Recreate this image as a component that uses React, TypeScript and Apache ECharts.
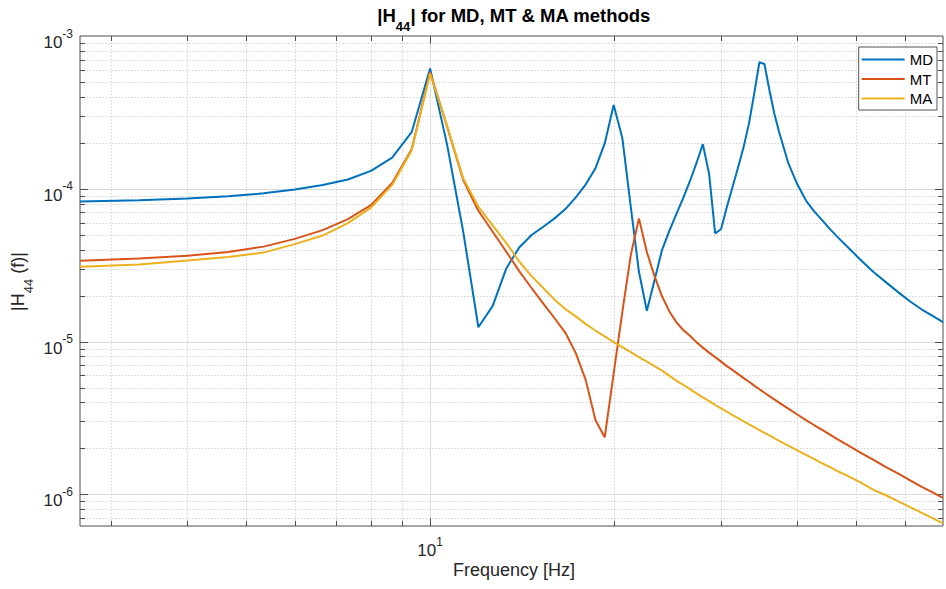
import React, { useEffect, useRef } from 'react';
import * as echarts from 'echarts';

// Frequency samples (Hz)
const freqHz = [
  2.667, 3.333, 4, 4.667, 5.333, 6, 6.667, 7.333, 8, 8.667, 9.333, 10, 10.667, 11.333, 12, 12.667,
  13.333, 14, 14.667, 15.333, 16, 16.667, 17.333, 18, 18.667, 19.333, 20, 20.667, 21.333, 22, 22.667,
  23.333, 24, 24.667, 25.333, 26, 26.667, 27.333, 28, 28.667, 29.333, 30, 30.667, 31.333, 32, 32.667,
  33.333, 34, 34.667, 35.333, 36, 36.667, 37.333, 38.667, 40, 41.333, 42.667, 44, 45.333, 46.667, 48,
  50.667, 53.333, 56, 58.667, 61.333, 64, 66.667, 69.333,
];

// |H44| from the MD method
const mdMagnitude = [
  8.24e-5, 8.4e-5, 8.65e-5, 8.92e-5, 9.33e-5, 9.88e-5, 1.057e-4, 1.15e-4, 1.31e-4, 1.6e-4, 2.36e-4, 6.13e-4,
  1.93e-4, 5.23e-5, 1.24e-5, 1.71e-5, 3.01e-5, 4.13e-5, 4.98e-5, 5.64e-5, 6.4e-5, 7.36e-5, 8.79e-5, 1.07e-4,
  1.36e-4, 1.98e-4, 3.53e-4, 2.14e-4, 7.62e-5, 2.86e-5, 1.59e-5, 2.52e-5, 3.97e-5, 5.28e-5, 6.83e-5, 8.69e-5,
  1.12e-4, 1.47e-4, 1.96e-4, 1.26e-4, 5.1e-5, 5.45e-5, 7.62e-5, 1.03e-4, 1.39e-4, 1.88e-4, 2.68e-4, 4.21e-4,
  6.73e-4, 6.56e-4, 4.43e-4, 3.12e-4, 2.36e-4, 1.47e-4, 1.07e-4, 8.37e-5, 7.09e-5, 6.19e-5, 5.4e-5, 4.79e-5,
  4.28e-5, 3.46e-5, 2.85e-5, 2.43e-5, 2.09e-5, 1.82e-5, 1.62e-5, 1.47e-5, 1.34e-5,
];

// |H44| from the MT method
const mtMagnitude = [
  3.38e-5, 3.49e-5, 3.64e-5, 3.86e-5, 4.18e-5, 4.7e-5, 5.36e-5, 6.33e-5, 7.82e-5, 1.09e-4, 1.82e-4, 5.81e-4,
  2.54e-4, 1.14e-4, 7.18e-5, 5.23e-5, 3.87e-5, 2.89e-5, 2.24e-5, 1.77e-5, 1.42e-5, 1.14e-5, 8.4e-6, 5.59e-6,
  3.06e-6, 2.36e-6, 6.18e-6, 1.57e-5, 3.68e-5, 6.4e-5, 3.85e-5, 2.68e-5, 1.98e-5, 1.58e-5, 1.34e-5, 1.19e-5,
  1.09e-5, 9.91e-6, 9.12e-6, 8.46e-6, 7.91e-6, 7.39e-6, 6.9e-6, 6.5e-6, 6.12e-6, 5.76e-6, 5.45e-6, 5.14e-6,
  4.87e-6, 4.62e-6, 4.39e-6, 4.18e-6, 3.98e-6, 3.64e-6, 3.33e-6, 3.06e-6, 2.83e-6, 2.63e-6, 2.45e-6, 2.28e-6,
  2.14e-6, 1.88e-6, 1.68e-6, 1.5e-6, 1.36e-6, 1.23e-6, 1.12e-6, 1.03e-6, 9.46e-7,
];

// |H44| from the MA method
const maMagnitude = [
  3.09e-5, 3.19e-5, 3.39e-5, 3.57e-5, 3.82e-5, 4.34e-5, 4.94e-5, 5.96e-5, 7.53e-5, 1.06e-4, 1.79e-4, 5.68e-4,
  2.57e-4, 1.17e-4, 7.62e-5, 5.76e-5, 4.41e-5, 3.34e-5, 2.68e-5, 2.24e-5, 1.88e-5, 1.63e-5, 1.46e-5, 1.3e-5,
  1.18e-5, 1.08e-5, 9.91e-6, 9.19e-6, 8.52e-6, 7.91e-6, 7.39e-6, 6.9e-6, 6.45e-6, 5.98e-6, 5.55e-6, 5.21e-6,
  4.88e-6, 4.58e-6, 4.31e-6, 4.07e-6, 3.85e-6, 3.65e-6, 3.47e-6, 3.3e-6, 3.15e-6, 3.0e-6, 2.87e-6, 2.75e-6,
  2.63e-6, 2.52e-6, 2.43e-6, 2.33e-6, 2.24e-6, 2.08e-6, 1.94e-6, 1.81e-6, 1.7e-6, 1.59e-6, 1.5e-6, 1.41e-6,
  1.34e-6, 1.2e-6, 1.07e-6, 9.82e-7, 8.96e-7, 8.21e-7, 7.55e-7, 6.98e-7, 6.46e-7,
];

const seriesNames = ['MD', 'MT', 'MA'];
const seriesValues = [mdMagnitude, mtMagnitude, maMagnitude];
const seriesColors = ['#0072BD', '#D95319', '#EDB120'];

const yRange = [6.2e-7, 1e-3];

// Grid / tick positions of the log axes
const xMajorTicks = [10];
const xMinorTicks = [3, 4, 5, 6, 7, 8, 9, 20, 30, 40, 50, 60];
const yMajorTicks = [1e-6, 1e-5, 1e-4];
const yMinorTicks = [
  7e-7, 8e-7, 9e-7,
  2e-6, 3e-6, 4e-6, 5e-6, 6e-6, 7e-6, 8e-6, 9e-6,
  2e-5, 3e-5, 4e-5, 5e-5, 6e-5, 7e-5, 8e-5, 9e-5,
  2e-4, 3e-4, 4e-4, 5e-4, 6e-4, 7e-4, 8e-4, 9e-4,
];

const FONT = '"Liberation Sans", Arial, Helvetica, sans-serif';
const TEXT = '#262626';
const AXIS = '#4d4d4d';

const powerLabel = (v: number) => {
  const e = Math.log10(v);
  const r = Math.round(e);
  if (Math.abs(e - r) > 1e-6) return '';
  return `{b|10}{s|${r}}`;
};

const gridData = [
  ...xMinorTicks.map((v) => [v, yRange[0], 0]),
  ...xMajorTicks.map((v) => [v, yRange[0], 1]),
  ...yMinorTicks.map((v) => [freqHz[0], v, 2]),
  ...yMajorTicks.map((v) => [freqHz[0], v, 3]),
];

const renderGrid = (params: any, api: any) => {
  const cs = params.coordSys;
  const kind = api.value(2);
  const pt = api.coord([api.value(0), api.value(1)]);
  const major = kind === 1 || kind === 3;
  const tick = major ? 8 : 5;
  const gridStyle = major
    ? { stroke: '#dcdcdc', lineWidth: 1 }
    : { stroke: '#d6d6d6', lineWidth: 1, lineDash: [1.6, 1.6] };
  const tickStyle = { stroke: AXIS, lineWidth: 1 };
  if (kind < 2) {
    const x = Math.round(pt[0]) + 0.5;
    const top = cs.y;
    const bottom = cs.y + cs.height;
    return {
      type: 'group',
      children: [
        { type: 'line', shape: { x1: x, y1: top, x2: x, y2: bottom }, style: gridStyle },
        { type: 'line', shape: { x1: x, y1: bottom, x2: x, y2: bottom - tick }, style: tickStyle },
        { type: 'line', shape: { x1: x, y1: top, x2: x, y2: top + tick }, style: tickStyle },
      ],
    };
  }
  const y = Math.round(pt[1]) + 0.5;
  const left = cs.x;
  const right = cs.x + cs.width;
  return {
    type: 'group',
    children: [
      { type: 'line', shape: { x1: left, y1: y, x2: right, y2: y }, style: gridStyle },
      { type: 'line', shape: { x1: left, y1: y, x2: left + tick, y2: y }, style: tickStyle },
      { type: 'line', shape: { x1: right, y1: y, x2: right - tick, y2: y }, style: tickStyle },
    ],
  };
};

export default function App() {
  const ref = useRef<HTMLDivElement>(null);

  useEffect(() => {
    if (!ref.current) return;
    const chart = echarts.init(ref.current, undefined, { renderer: 'svg' });

    const option: any = {
      animation: false,
      backgroundColor: '#ffffff',
      textStyle: { fontFamily: FONT },
      grid: {
        left: 80,
        right: 1,
        top: 36,
        bottom: 63,
        show: true,
        borderColor: AXIS,
        borderWidth: 1,
        backgroundColor: '#ffffff',
      },
      legend: {
        data: seriesNames,
        orient: 'vertical',
        right: 9,
        top: 47,
        icon: 'rect',
        itemWidth: 43,
        itemHeight: 2,
        itemGap: 4.5,
        padding: [5, 4, 4, 3],
        borderColor: '#555555',
        borderWidth: 1,
        backgroundColor: '#ffffff',
        textStyle: { fontSize: 15, color: '#000000', fontFamily: FONT },
      },
      xAxis: {
        type: 'log',
        logBase: 10,
        min: freqHz[0],
        max: freqHz[freqHz.length - 1],
        axisLine: { show: false },
        axisTick: { show: false },
        splitLine: { show: false },
        axisLabel: {
          formatter: powerLabel,
          margin: 10,
          color: TEXT,
          rich: {
            b: { fontSize: 17, lineHeight: 22.75, verticalAlign: 'bottom', color: TEXT, fontFamily: FONT },
            s: { fontSize: 12, lineHeight: 14, verticalAlign: 'top', color: TEXT, fontFamily: FONT },
          },
        },
      },
      yAxis: {
        type: 'log',
        logBase: 10,
        min: yRange[0],
        max: yRange[1],
        axisLine: { show: false },
        axisTick: { show: false },
        splitLine: { show: false },
        axisLabel: {
          formatter: powerLabel,
          margin: 7,
          padding: [6.6, 0, 0, 0],
          color: TEXT,
          rich: {
            b: { fontSize: 17, lineHeight: 23.5, verticalAlign: 'bottom', color: TEXT, fontFamily: FONT },
            s: { fontSize: 12, lineHeight: 14, verticalAlign: 'top', color: TEXT, fontFamily: FONT },
          },
        },
      },
      graphic: [
        {
          type: 'text',
          x: 514,
          y: 19,
          style: {
            text: '{n||H}{s|44}{n|| for MD, MT & MA methods}',
            align: 'center',
            verticalAlign: 'middle',
            rich: {
              n: { fontSize: 18.5, fontWeight: 'bold', lineHeight: 27, verticalAlign: 'top', fill: '#000', fontFamily: FONT },
              s: { fontSize: 13, fontWeight: 'bold', lineHeight: 13, verticalAlign: 'bottom', fill: '#000', fontFamily: FONT },
            },
          },
        },
        {
          type: 'text',
          x: 514,
          y: 570,
          style: {
            text: 'Frequency [Hz]',
            align: 'center',
            verticalAlign: 'middle',
            fontSize: 18,
            fill: TEXT,
            fontFamily: FONT,
          },
        },
        {
          type: 'text',
          x: 22,
          y: 281.5,
          rotation: Math.PI / 2,
          style: {
            text: '{n||H}{s|44}{n| (f)|}',
            align: 'center',
            verticalAlign: 'middle',
            rich: {
              n: { fontSize: 18, lineHeight: 25.5, verticalAlign: 'top', fill: TEXT, fontFamily: FONT },
              s: { fontSize: 13, lineHeight: 13, verticalAlign: 'bottom', fill: TEXT, fontFamily: FONT },
            },
          },
        },
      ],
      series: [
        {
          type: 'custom',
          name: 'grid',
          renderItem: renderGrid,
          data: gridData,
          z: 1,
          silent: true,
        },
        ...seriesNames.map((name, i) => ({
          type: 'line',
          name,
          data: freqHz.map((f, j) => [f, seriesValues[i][j]]),
          showSymbol: false,
          symbol: 'none',
          lineStyle: { width: 2, color: seriesColors[i] },
          itemStyle: { color: seriesColors[i] },
          z: 3,
        })),
      ],
    };

    chart.setOption(option);
    return () => chart.dispose();
  }, []);

  return (
    <div
      ref={ref}
      style={{ position: 'fixed', left: 0, top: 0, width: 946, height: 589, background: '#fff' }}
    />
  );
}
